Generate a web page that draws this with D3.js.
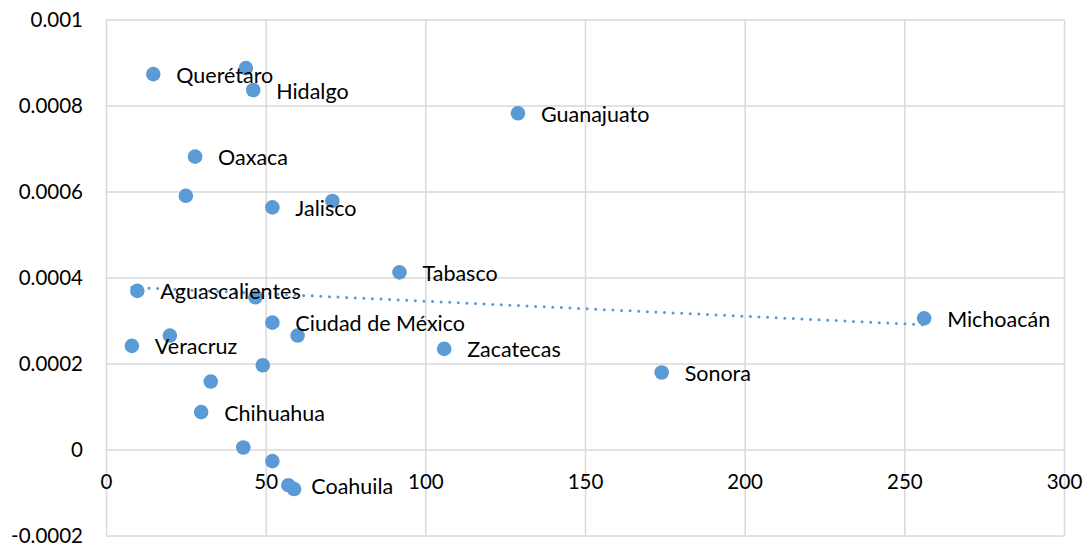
<!DOCTYPE html>
<html>
<head>
<meta charset="utf-8">
<script src="https://cdn.jsdelivr.net/npm/d3@7"></script>
<style>
  body { margin: 0; background: #fff; }
  svg { display: block; font-family: Lato, "Open Sans", sans-serif; }
</style>
</head>
<body>
<svg class="scatter"></svg>
<script>
var W = 1086, H = 547;
var margin = {top: 19.5, bottom: 11.5, left: 106, right: 22};
var width = W - margin.left - margin.right,
    height = H - margin.top - margin.bottom;

// data (empty label = unlabeled point)
var names = ["Querétaro", "", "Hidalgo", "Guanajuato", "Oaxaca", "", "Jalisco", "",
             "Tabasco", "Aguascalientes", "", "Ciudad de México", "", "", "Veracruz",
             "", "Michoacán", "Zacatecas", "Sonora", "", "Chihuahua", "", "", "Coahuila", ""];
var xs = [14.8, 43.8, 46.1, 129.0, 27.9, 25.0, 52.1, 70.9,
          91.9, 9.8, 46.8, 52.1, 60.0, 20.0, 8.1,
          49.1, 256.2, 105.9, 174.0, 32.8, 29.8, 43.0, 52.1, 57.1, 58.9];
var ys = [0.000873, 0.000887, 0.000836, 0.000782, 0.000681, 0.000590, 0.000563, 0.000578,
          0.000412, 0.000369, 0.000354, 0.000295, 0.000265, 0.000265, 0.000241,
          0.000196, 0.000305, 0.000234, 0.000179, 0.000158, 0.000087, 0.0000047, -0.000027, -0.000083, -0.000092];

var xTicks = [0, 50, 100, 150, 200, 250, 300];
var xTickLabels = ["0", "50", "100", "150", "200", "250", "300"];
var yTicks = [-0.0002, 0, 0.0002, 0.0004, 0.0006, 0.0008, 0.001];
var yTickLabels = ["-0.0002", "0", "0.0002", "0.0004", "0.0006", "0.0008", "0.001"];

var data = xs.map(function(v, i) { return {name: names[i], x: v, y: ys[i]}; });

var x = d3.scaleLinear().domain([0, 300]).range([0, width]);
var y = d3.scaleLinear().domain([-0.0002, 0.001]).range([height, 0]);

var svg = d3.select(".scatter")
    .attr("width", W)
    .attr("height", H)
  .append("g")
    .attr("transform", "translate(" + margin.left + "," + margin.top + ")");

// gridlines
svg.append("g")
    .attr("class", "grid")
    .attr("transform", "translate(0," + height + ")")
    .call(d3.axisBottom(x).tickValues(xTicks).tickSize(-height).tickFormat(""));
svg.append("g")
    .attr("class", "grid")
    .call(d3.axisLeft(y).tickValues(yTicks).tickSize(-width).tickFormat(""));
svg.selectAll(".grid .domain").remove();
svg.selectAll(".grid line")
    .attr("stroke", "#d9d9d9")
    .attr("stroke-width", 1.5);

// y axis labels
var yAxis = svg.append("g")
    .call(d3.axisLeft(y).tickValues(yTicks).tickSize(0).tickPadding(23)
      .tickFormat(function(d, i) { return yTickLabels[i]; }));
yAxis.select(".domain").remove();
yAxis.selectAll("text")
    .attr("font-size", 20.5)
    .attr("font-family", "Lato, sans-serif")
    .attr("fill", "#000");

// x axis labels, hanging under the zero line
var xAxis = svg.append("g")
    .attr("transform", "translate(0," + y(0) + ")")
    .call(d3.axisBottom(x).tickValues(xTicks).tickSize(0).tickPadding(25)
      .tickFormat(function(d, i) { return xTickLabels[i]; }));
xAxis.select(".domain").remove();
xAxis.selectAll("text")
    .attr("font-size", 20.5)
    .attr("font-family", "Lato, sans-serif")
    .attr("fill", "#000");

// linear trendline (least squares)
var mx = d3.mean(data, function(d) { return d.x; }),
    my = d3.mean(data, function(d) { return d.y; });
var slope = d3.sum(data, function(d) { return (d.x - mx) * (d.y - my); }) /
            d3.sum(data, function(d) { return (d.x - mx) * (d.x - mx); });
var icpt = my - slope * mx;
var ext = d3.extent(data, function(d) { return d.x; });

svg.append("path")
    .datum(ext.map(function(v) { return {x: v, y: icpt + slope * v}; }))
    .attr("fill", "none")
    .attr("stroke", "#5b9bd5")
    .attr("stroke-width", 3)
    .attr("stroke-linecap", "round")
    .attr("stroke-dasharray", "0,8.6")
    .attr("d", d3.line().x(function(d) { return x(d.x); }).y(function(d) { return y(d.y); }));

// points
svg.selectAll(".dot")
    .data(data)
  .enter().append("circle")
    .attr("class", "dot")
    .attr("r", 7.3)
    .attr("cx", function(d) { return x(d.x); })
    .attr("cy", function(d) { return y(d.y); })
    .attr("fill", "#5b9bd5");

// point labels
svg.selectAll(".lbl")
    .data(data.filter(function(d) { return d.name; }))
  .enter().append("text")
    .attr("class", "lbl")
    .attr("x", function(d) { return x(d.x) + 23; })
    .attr("y", function(d) { return y(d.y) + 1; })
    .attr("dy", "0.35em")
    .attr("font-size", 21.5)
    .attr("fill", "#000")
    .text(function(d) { return d.name; });
</script>
</body>
</html>
